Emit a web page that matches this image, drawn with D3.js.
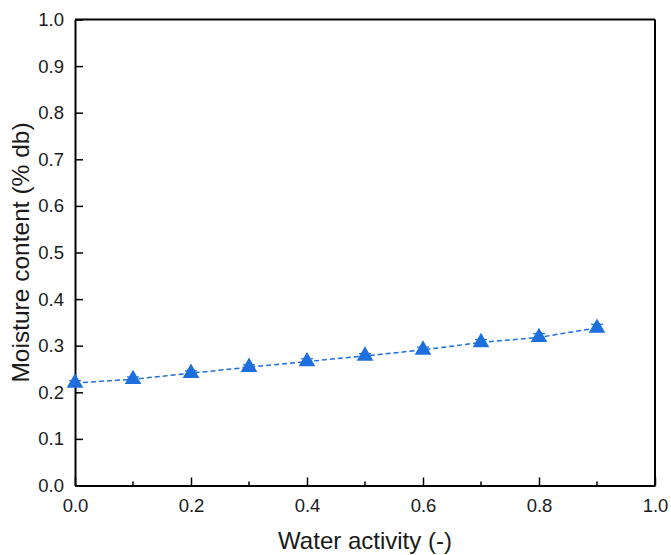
<!DOCTYPE html>
<html>
<head>
<meta charset="utf-8">
<script src="https://cdn.jsdelivr.net/npm/d3@7"></script>
<style>
  body { margin: 0; background: #fff; }
  text { font-family: Arial, "Liberation Sans", sans-serif; fill: #1a1a1a; }
</style>
</head>
<body>
<div id="chart"></div>
<script>
// Data
const waterActivity = [0.0, 0.1, 0.2, 0.3, 0.4, 0.5, 0.6, 0.7, 0.8, 0.9];
const moisture = [0.220, 0.228, 0.241, 0.254, 0.266, 0.278, 0.291, 0.307, 0.318, 0.338];
const moistureErr = [0.005, 0.005, 0.005, 0.005, 0.006, 0.005, 0.006, 0.006, 0.008, 0.008];
const xTicks = [0.0, 0.2, 0.4, 0.6, 0.8, 1.0];
const xMinorTicks = [0.1, 0.3, 0.5, 0.7, 0.9];
const yTicks = [0.0, 0.1, 0.2, 0.3, 0.4, 0.5, 0.6, 0.7, 0.8, 0.9, 1.0];

const W = 671, H = 555;
const margin = { top: 19.5, right: 16, bottom: 69.5, left: 75 };
const width = W - margin.left - margin.right;
const height = H - margin.top - margin.bottom;
const color = "#1c6fdc";

const svg = d3.select("#chart").append("svg")
  .attr("width", W).attr("height", H);
const g = svg.append("g")
  .attr("transform", `translate(${margin.left},${margin.top})`);

const x = d3.scaleLinear().domain([0, 1]).range([0, width]);
const y = d3.scaleLinear().domain([0, 1]).range([height, 0]);

// x axis (ticks point inward)
const xAxis = g.append("g")
  .attr("transform", `translate(0,${height})`)
  .call(d3.axisBottom(x).tickValues(xTicks).tickFormat(d3.format(".1f"))
    .tickSizeInner(-8).tickSizeOuter(0).tickPadding(13));
xAxis.selectAll("text").style("font-size", "18.5px");
xAxis.append("g").selectAll("line")
  .data(xMinorTicks).enter().append("line")
  .attr("x1", d => x(d)).attr("x2", d => x(d))
  .attr("y1", 0).attr("y2", -4)
  .attr("stroke", "#000").attr("stroke-width", 1.5);

// y axis
const yAxis = g.append("g")
  .call(d3.axisLeft(y).tickValues(yTicks).tickFormat(d3.format(".1f"))
    .tickSizeInner(-8).tickSizeOuter(0).tickPadding(11));
yAxis.selectAll("text").style("font-size", "18.5px");

g.selectAll(".domain").attr("stroke", "#000").attr("stroke-width", 2);
g.selectAll(".tick line").attr("stroke", "#000").attr("stroke-width", 1.5);

// box
g.append("line").attr("x1", 0).attr("x2", width).attr("y1", 0).attr("y2", 0)
  .attr("stroke", "#000").attr("stroke-width", 2);
g.append("line").attr("x1", width).attr("x2", width).attr("y1", 0).attr("y2", height)
  .attr("stroke", "#000").attr("stroke-width", 2);

// axis titles
g.append("text")
  .attr("x", width / 2).attr("y", height + 63)
  .attr("text-anchor", "middle")
  .style("font-size", "24px")
  .text("Water activity (-)");
g.append("text")
  .attr("transform", "rotate(-90)")
  .attr("x", -height / 2).attr("y", -46)
  .attr("text-anchor", "middle")
  .style("font-size", "24.5px")
  .text("Moisture content (% db)");

const data = waterActivity.map((d, i) => ({ x: d, y: moisture[i], e: moistureErr[i] }));

// dashed line
g.append("path")
  .datum(data)
  .attr("fill", "none")
  .attr("stroke", color)
  .attr("stroke-width", 1.5)
  .attr("stroke-dasharray", "5,3")
  .attr("d", d3.line().x(d => x(d.x)).y(d => y(d.y)));

// error bars
const eb = g.append("g").attr("stroke", color).attr("stroke-width", 1.2);
data.forEach(d => {
  eb.append("line").attr("x1", x(d.x)).attr("x2", x(d.x))
    .attr("y1", y(d.y - d.e)).attr("y2", y(d.y + d.e));
  [d.y - d.e, d.y + d.e].forEach(v => {
    eb.append("line").attr("x1", x(d.x) - 6).attr("x2", x(d.x) + 6)
      .attr("y1", y(v)).attr("y2", y(v));
  });
});

// triangle markers
g.selectAll(".pt")
  .data(data)
  .enter().append("path")
  .attr("class", "pt")
  .attr("transform", d => `translate(${x(d.x)},${y(d.y)})`)
  .attr("d", d3.symbol().type(d3.symbolTriangle).size(120))
  .attr("fill", color);
</script>
</body>
</html>
